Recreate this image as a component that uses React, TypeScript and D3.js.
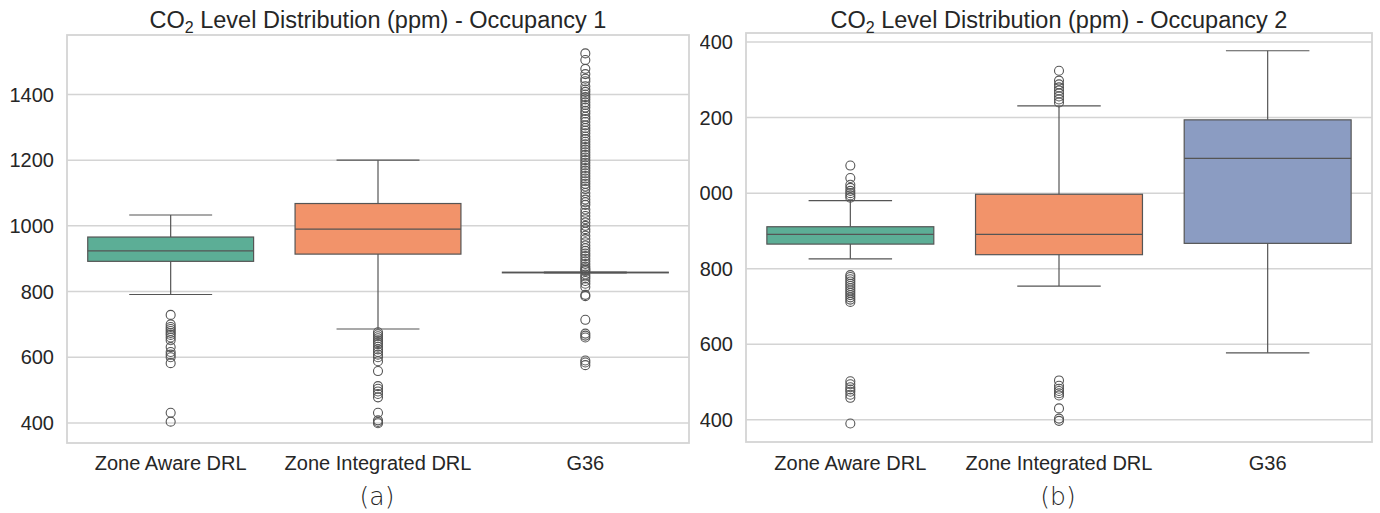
import React from "react";
import { scaleBand, scaleLinear } from "d3";

const categories = ["Zone Aware DRL", "Zone Integrated DRL", "G36"];
const boxColors = ["#5cae96", "#f2936a", "#8b9cc2"];
const yTicks = [400, 600, 800, 1000, 1200, 1400];

// Occupancy 1 box stats (per category)
const occ1Lo = [791, 686, 857];
const occ1Q1 = [892, 914, 857];
const occ1Med = [924, 990, 858];
const occ1Q3 = [966, 1068, 859];
const occ1Hi = [1033, 1200, 859];
const occ1ZoneAwareOut = [729, 700, 692, 686, 680, 674, 668, 660, 652, 631, 616, 608, 600, 582, 431, 404];
const occ1ZoneIntOut = [676, 670, 664, 658, 652, 646, 640, 632, 624, 616, 608, 600, 588, 558, 512, 504, 496, 488, 478, 431, 408, 403, 399];
const occ1G36Out = [
  1525, 1505, 1478, 1462, 1448, 1440, 1425, 1415, 1408, 1400, 1392, 1385, 1376, 1368, 1360, 1350,
  1342, 1332, 1325, 1316, 1306, 1298, 1290, 1282, 1272, 1264, 1256, 1248, 1240, 1232, 1224, 1216,
  1208, 1200, 1192, 1184, 1176, 1168, 1160, 1152, 1144, 1136, 1128, 1120, 1112, 1100, 1090, 1080,
  1072, 1064, 1050, 1040, 1030, 1020, 1010, 1000, 990, 982, 970, 960, 950, 940, 932, 924, 916,
  908, 900, 892, 884, 876, 870, 866, 862, 852, 846, 840, 832, 824, 814, 790, 786, 714, 672, 666,
  660, 590, 584, 576,
];

// Occupancy 2 box stats
const occ2Lo = [826, 754, 577];
const occ2Q1 = [865, 837, 867];
const occ2Med = [891, 891, 1092];
const occ2Q3 = [911, 997, 1194];
const occ2Hi = [980, 1231, 1377];
const occ2ZoneAwareOut = [1073, 1040, 1022, 1014, 1006, 1000, 994, 988, 783, 778, 772, 766, 760, 754, 748, 742, 736, 730, 724, 718, 712, 502, 494, 486, 480, 474, 466, 458, 390];
const occ2ZoneIntOut = [1324, 1298, 1288, 1280, 1272, 1264, 1256, 1248, 1240, 504, 490, 482, 476, 470, 464, 430, 403, 397];
const occ2G36Out: number[] = [];

const FONT = "'Liberation Sans', Arial, sans-serif";
const TEXT = "#262626";
const GRID = "#d4d4d4";
const LINE = "#555555";

type PanelProps = {
  n: number;
  left: number;
  right: number;
  top: number;
  bottom: number;
  domain: [number, number];
  lo: number[];
  q1: number[];
  med: number[];
  q3: number[];
  hi: number[];
  outliers: number[][];
  tag: string;
  clipX?: number;
};

const Panel = ({ n, left, right, top, bottom, domain, lo, q1, med, q3, hi, outliers, tag, clipX }: PanelProps) => {
  const x = scaleBand<string>().domain(categories).range([left, right]).padding(0);
  const y = scaleLinear().domain(domain).range([bottom, top]);
  const bw = x.bandwidth() * 0.8;
  const cw = bw / 2;
  const cx = (c: string) => (x(c) as number) + x.bandwidth() / 2;
  const mid = (left + right) / 2;
  const clipId = `clip-${n}`;

  return (
    <g clipPath={clipX !== undefined ? `url(#${clipId})` : undefined}>
      {clipX !== undefined && (
        <defs>
          <clipPath id={clipId}>
            <rect x={clipX} y={0} width={1380 - clipX} height={513} />
          </clipPath>
        </defs>
      )}
      {/* grid */}
      {yTicks.map((t) => (
        <line key={t} x1={left} x2={right} y1={y(t)} y2={y(t)} stroke={GRID} strokeWidth={1.5} />
      ))}
      {/* y tick labels */}
      {yTicks.map((t) => (
        <text key={"l" + t} x={left - 13} y={y(t)} dy="0.36em" textAnchor="end" fontSize={20} fill={TEXT} fontFamily={FONT}>
          {t}
        </text>
      ))}
      {/* boxes */}
      {categories.map((c, i) => {
        const xc = cx(c);
        return (
          <g key={c}>
            <line x1={xc} x2={xc} y1={y(q3[i])} y2={y(hi[i])} stroke={LINE} strokeWidth={1.2} />
            <line x1={xc} x2={xc} y1={y(q1[i])} y2={y(lo[i])} stroke={LINE} strokeWidth={1.2} />
            <line x1={xc - cw / 2} x2={xc + cw / 2} y1={y(hi[i])} y2={y(hi[i])} stroke={LINE} strokeWidth={1.2} />
            <line x1={xc - cw / 2} x2={xc + cw / 2} y1={y(lo[i])} y2={y(lo[i])} stroke={LINE} strokeWidth={1.2} />
            <rect
              x={xc - bw / 2}
              y={y(q3[i])}
              width={bw}
              height={Math.max(0, y(q1[i]) - y(q3[i]))}
              fill={boxColors[i]}
              stroke={LINE}
              strokeWidth={1.2}
            />
            <line x1={xc - bw / 2} x2={xc + bw / 2} y1={y(med[i])} y2={y(med[i])} stroke={LINE} strokeWidth={1.2} />
            {outliers[i].map((v, k) => (
              <circle key={k} cx={xc} cy={y(v)} r={4.5} fill="none" stroke={LINE} strokeWidth={1.1} />
            ))}
            <text x={xc} y={470} textAnchor="middle" fontSize={20} fill={TEXT} fontFamily={FONT}>
              {c}
            </text>
          </g>
        );
      })}
      {/* frame */}
      <rect x={left} y={top} width={right - left} height={bottom - top} fill="none" stroke={GRID} strokeWidth={1.8} />
      {/* title */}
      <text x={mid} y={28} textAnchor="middle" fontSize={23.5} fill={TEXT} fontFamily={FONT}>
        CO<tspan fontSize={16} dy={5}>2</tspan>
        <tspan dy={-5}> Level Distribution (ppm) - Occupancy {n}</tspan>
      </text>
      <text x={mid - 1} y={505} textAnchor="middle" fontSize={25} fill={TEXT} fontFamily="'DejaVu Sans', sans-serif" fontWeight={300}>
        {tag}
      </text>
    </g>
  );
};

const App = () => {
  return (
    <svg width={1380} height={513} style={{ position: "absolute", left: 0, top: 0, background: "#fff" }}>
      <rect x={0} y={0} width={1380} height={513} fill="#fff" />
      <Panel
        n={1}
        left={67}
        right={689}
        top={35}
        bottom={443}
        domain={[339, 1581]}
        lo={occ1Lo}
        q1={occ1Q1}
        med={occ1Med}
        q3={occ1Q3}
        hi={occ1Hi}
        outliers={[occ1ZoneAwareOut, occ1ZoneIntOut, occ1G36Out]}
        tag="(a)"
      />
      <Panel
        n={2}
        left={746}
        right={1372}
        top={33}
        bottom={442}
        domain={[341, 1424]}
        lo={occ2Lo}
        q1={occ2Q1}
        med={occ2Med}
        q3={occ2Q3}
        hi={occ2Hi}
        outliers={[occ2ZoneAwareOut, occ2ZoneIntOut, occ2G36Out]}
        tag="(b)"
        clipX={700}
      />
    </svg>
  );
};

export default App;
